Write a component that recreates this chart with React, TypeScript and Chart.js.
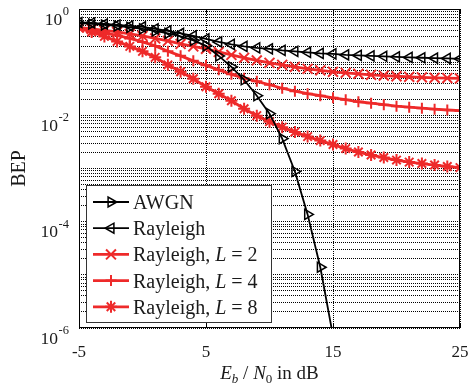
import React, { useEffect, useRef } from "react";
import { Chart, registerables } from "chart.js";

Chart.register(...registerables);

// ---------- data ----------
const snrDb = [-5, -4, -3, -2, -1, 0, 1, 2, 3, 4, 5, 6, 7, 8, 9, 10, 11, 12, 13, 14, 15, 16, 17, 18, 19, 20, 21, 22, 23, 24, 25];
const awgnDb = [-5, -4, -3, -2, -1, 0, 1, 2, 3, 4, 5, 6, 7, 8, 9, 10, 11, 12, 13, 14, 15];
const awgnBep = [0.546, 0.523, 0.501, 0.48, 0.45, 0.422, 0.387, 0.347, 0.305, 0.257, 0.2025, 0.131, 0.0818, 0.0466, 0.0234, 0.01075, 0.00365, 8.8e-4, 1.37e-4, 1.39e-5, 7.1e-7];
const rayleighBep = [0.558, 0.546, 0.523, 0.501, 0.48, 0.46, 0.422, 0.387, 0.347, 0.312, 0.274, 0.2405, 0.216, 0.198, 0.186, 0.178, 0.167, 0.16, 0.153, 0.146, 0.143, 0.137, 0.134, 0.131, 0.129, 0.126, 0.123, 0.121, 0.119, 0.1175, 0.1155];
const rayleighL2Bep = [0.45, 0.422, 0.395, 0.3705, 0.34, 0.312, 0.28, 0.251, 0.2207, 0.198, 0.178, 0.156, 0.137, 0.1206, 0.108, 0.0972, 0.0891, 0.0818, 0.075, 0.0703, 0.0659, 0.0631, 0.0604, 0.0579, 0.0559, 0.0543, 0.0531, 0.0519, 0.0508, 0.0502, 0.0495];
const rayleighL4Bep = [0.422, 0.387, 0.355, 0.3185, 0.28, 0.2405, 0.2025, 0.16, 0.1314, 0.1059, 0.0872, 0.0718, 0.0591, 0.0498, 0.0437, 0.0376, 0.0323, 0.0284, 0.0255, 0.0234, 0.0214, 0.0197, 0.018, 0.0169, 0.01585, 0.01485, 0.01422, 0.01363, 0.01305, 0.0126, 0.01224];
const rayleighL8Bep = [0.44, 0.3705, 0.305, 0.2458, 0.198, 0.1596, 0.1232, 0.0891, 0.0659, 0.0487, 0.0345, 0.0255, 0.01884, 0.01334, 0.00986, 0.0076, 0.006, 0.00484, 0.00398, 0.00335, 0.00282, 0.00237, 0.00204, 0.00179, 0.00161, 0.00144, 0.00132, 0.00124, 0.00116, 0.00109, 0.00104];

const seriesLabels = ["AWGN", "Rayleigh", "Rayleigh, L = 2", "Rayleigh, L = 4", "Rayleigh, L = 8"];
const xTickValues = [-5, 5, 15, 25];
const yTickExponents = [0, -2, -4, -6];
const yGridDecades = [-6, -5, -4, -3, -2, -1];
const gridMantissas = [1, 2, 3, 4, 5, 6, 7, 8, 9];
const xTitle = "E_b / N_0 in dB";
const yTitle = "BEP";

// ---------- styles ----------
const RED = "#EE2A2A";
const SERIF = '"Liberation Serif", "Times New Roman", serif';

type Marker = { style: string; rot: number; r: number; w: number };
const markers: Marker[] = [
  { style: "triangle", rot: 90, r: 5.8, w: 1.5 },
  { style: "triangle", rot: -90, r: 5.8, w: 1.5 },
  { style: "crossRot", rot: 0, r: 7, w: 2 },
  { style: "cross", rot: 0, r: 5.5, w: 2 },
  { style: "star", rot: 0, r: 6, w: 2 },
];
const colors = ["#000000", "#000000", RED, RED, RED];
const lineWidths = [1.8, 1.8, 2.8, 2.8, 2.8];

function drawMarker(ctx: CanvasRenderingContext2D, m: Marker, x: number, y: number, color: string) {
  ctx.save();
  ctx.strokeStyle = color;
  ctx.lineWidth = m.w;
  ctx.setLineDash([]);
  ctx.beginPath();
  const r = m.r;
  if (m.style === "triangle") {
    let rad = (m.rot * Math.PI) / 180;
    for (let k = 0; k < 3; k++) {
      const px = x + Math.sin(rad) * r;
      const py = y - Math.cos(rad) * r;
      if (k === 0) ctx.moveTo(px, py);
      else ctx.lineTo(px, py);
      rad += (2 * Math.PI) / 3;
    }
    ctx.closePath();
  } else {
    const seg = (a: number) => {
      const dx = Math.cos(a) * r;
      const dy = Math.sin(a) * r;
      ctx.moveTo(x - dx, y - dy);
      ctx.lineTo(x + dx, y + dy);
    };
    if (m.style === "cross" || m.style === "star") {
      seg(0);
      seg(Math.PI / 2);
    }
    if (m.style === "crossRot" || m.style === "star") {
      seg(Math.PI / 4);
      seg(-Math.PI / 4);
    }
  }
  ctx.stroke();
  ctx.restore();
}

type Part = { t: string; italic?: boolean; sub?: boolean };

function parseRich(s: string): Part[] {
  // "E_b / N_0 in dB" -> italic letters with subscripts; "L" italic in legend labels
  const parts: Part[] = [];
  const tokens = s.split(/(\w_\w|, L )/);
  for (const tok of tokens) {
    if (!tok) continue;
    const m = tok.match(/^(\w)_(\w)$/);
    if (m) {
      parts.push({ t: m[1], italic: true });
      parts.push({ t: m[2], sub: true, italic: /[a-z]/.test(m[2]) });
    } else if (tok === ", L ") {
      parts.push({ t: ", " });
      parts.push({ t: "L", italic: true });
      parts.push({ t: " " });
    } else {
      parts.push({ t: tok });
    }
  }
  return parts;
}

function drawRich(ctx: CanvasRenderingContext2D, parts: Part[], x: number, baseline: number, size: number, align: "left" | "center") {
  const subSize = Math.round(size * 0.7);
  const fontOf = (p: Part) => `${p.italic ? "italic " : ""}${p.sub ? subSize : size}px ${SERIF}`;
  let total = 0;
  for (const p of parts) {
    ctx.font = fontOf(p);
    total += ctx.measureText(p.t).width;
  }
  let cx = align === "center" ? x - total / 2 : x;
  ctx.textAlign = "left";
  ctx.textBaseline = "alphabetic";
  for (const p of parts) {
    ctx.font = fontOf(p);
    ctx.fillText(p.t, cx, baseline + (p.sub ? size * 0.22 : 0));
    cx += ctx.measureText(p.t).width;
  }
}

const overlayPlugin = {
  id: "overlay",
  afterDraw(chart: any) {
    const { ctx, chartArea: a, scales } = chart;
    const xs = scales.x;
    const ys = scales.y;
    ctx.save();
    ctx.setLineDash([]);

    // frame
    ctx.strokeStyle = "#000";
    ctx.lineWidth = 1;
    ctx.strokeRect(a.left + 0.5, a.top + 0.5, a.right - a.left - 1, a.bottom - a.top - 1);

    // inward x tick marks
    ctx.beginPath();
    for (const v of xTickValues) {
      const px = Math.round(xs.getPixelForValue(v)) + 0.5;
      ctx.moveTo(px, a.bottom);
      ctx.lineTo(px, a.bottom - 4);
      ctx.moveTo(px, a.top);
      ctx.lineTo(px, a.top + 4);
    }
    ctx.stroke();

    ctx.fillStyle = "#1a1a1a";
    // x tick labels
    ctx.font = `17px ${SERIF}`;
    ctx.textAlign = "center";
    ctx.textBaseline = "alphabetic";
    for (const v of xTickValues) {
      ctx.fillText(String(v), xs.getPixelForValue(v), a.bottom + 29);
    }

    // y tick labels 10^e
    const right = a.left - 10;
    for (const e of yTickExponents) {
      const y = ys.getPixelForValue(Math.pow(10, e));
      const sup = String(e);
      ctx.textAlign = "left";
      ctx.font = `12.5px ${SERIF}`;
      const sw = ctx.measureText(sup).width;
      ctx.fillText(sup, right - sw, y + 6);
      ctx.font = `17.5px ${SERIF}`;
      const bw = ctx.measureText("10").width;
      ctx.fillText("10", right - sw - 0.5 - bw, y + 15.5);
    }

    // axis titles
    drawRich(ctx, parseRich(xTitle), (a.left + a.right) / 2, a.bottom + 51, 19, "center");
    ctx.save();
    ctx.translate(24.5, (a.top + a.bottom) / 2);
    ctx.rotate(-Math.PI / 2);
    ctx.font = `20px ${SERIF}`;
    ctx.textAlign = "center";
    ctx.textBaseline = "alphabetic";
    ctx.fillText(yTitle, 0, 0);
    ctx.restore();

    // legend
    const lx = a.left + 7;
    const ly = 185;
    const lw = 186;
    const lh = 138;
    ctx.fillStyle = "#fff";
    ctx.fillRect(lx, ly, lw, lh);
    ctx.strokeStyle = "#333";
    ctx.lineWidth = 1;
    ctx.strokeRect(lx + 0.5, ly + 0.5, lw - 1, lh - 1);
    chart.data.datasets.forEach((ds: any, i: number) => {
      const ry = ly + 17 + i * 26.2;
      ctx.strokeStyle = colors[i];
      ctx.lineWidth = lineWidths[i];
      ctx.beginPath();
      ctx.moveTo(lx + 7, ry);
      ctx.lineTo(lx + 43, ry);
      ctx.stroke();
      drawMarker(ctx, markers[i], lx + 25, ry, colors[i]);
      ctx.fillStyle = "#1a1a1a";
      drawRich(ctx, parseRich(ds.label), lx + 47, ry + 7, 20, "left");
    });
    ctx.restore();
  },
};

const series = [awgnBep, rayleighBep, rayleighL2Bep, rayleighL4Bep, rayleighL8Bep];

export default function App() {
  const ref = useRef<HTMLCanvasElement | null>(null);
  useEffect(() => {
    if (!ref.current) return;
    const datasets = series.map((vals, i) => {
      const xsrc = i === 0 ? awgnDb : snrDb;
      return {
        label: seriesLabels[i],
        data: vals.map((v, k) => ({ x: xsrc[k], y: v })),
        borderColor: colors[i],
        borderWidth: lineWidths[i],
        pointStyle: markers[i].style,
        pointRotation: markers[i].rot,
        pointRadius: markers[i].r,
        pointBorderWidth: markers[i].w,
        pointBorderColor: colors[i],
        pointBackgroundColor: "rgba(0,0,0,0)",
        tension: 0,
        fill: false,
      };
    });
    const yGrid: number[] = [];
    for (const d of yGridDecades) for (const m of gridMantissas) yGrid.push(m * Math.pow(10, d));
    yGrid.push(1);

    const chart = new Chart(ref.current, {
      type: "line",
      data: { datasets } as any,
      options: {
        animation: false,
        responsive: false,
        devicePixelRatio: 1,
        events: [],
        layout: { padding: { top: 8, right: 10, left: 0, bottom: 0 } },
        plugins: { legend: { display: false }, tooltip: { enabled: false } },
        scales: {
          x: {
            type: "linear",
            min: -5,
            max: 25,
            afterBuildTicks: (s: any) => {
              s.ticks = xTickValues.map((v) => ({ value: v }));
            },
            afterFit: (s: any) => {
              s.height = 56;
            },
            ticks: { display: false },
            grid: { color: "#000", lineWidth: 1, drawTicks: false },
            border: { display: false, dash: [1, 1] },
          },
          y: {
            type: "logarithmic",
            min: 1e-6,
            max: 1,
            afterBuildTicks: (s: any) => {
              s.ticks = yGrid.map((v) => ({ value: v }));
            },
            afterFit: (s: any) => {
              s.width = 79;
            },
            ticks: { display: false },
            grid: { color: "#000", lineWidth: 1, drawTicks: false },
            border: { display: false, dash: [1, 1] },
          },
        },
      } as any,
      plugins: [overlayPlugin],
    });
    return () => chart.destroy();
  }, []);

  return (
    <div style={{ position: "fixed", left: 0, top: 0, width: 470, height: 384, background: "#fff" }}>
      <canvas ref={ref} width={470} height={384} style={{ display: "block", width: 470, height: 384 }} />
    </div>
  );
}
